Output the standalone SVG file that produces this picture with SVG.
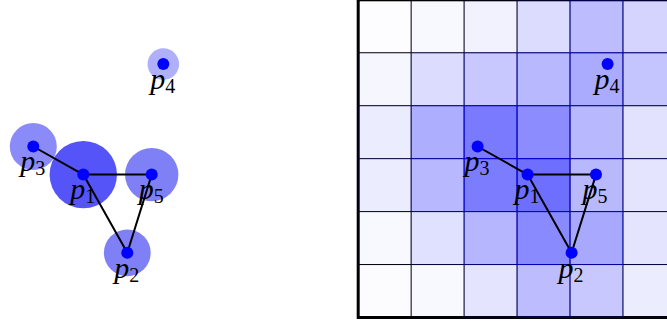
<svg xmlns="http://www.w3.org/2000/svg" width="667" height="324" viewBox="0 0 667 324">
<style>
.halo{stroke:none}
.edge{stroke:#000;stroke-width:2;fill:none;stroke-linecap:round}
.dot{fill:#0000ff}
.lbl{font-family:"Liberation Serif",serif;font-style:italic;font-size:30px;fill:#000}
.sub{font-family:"Liberation Serif",serif;font-style:normal;font-size:20px}
.gl{stroke:#000;stroke-width:1;fill:none}
.cell{fill:#0000ff;stroke:#0000ff;stroke-width:0.9}
</style>
<rect width="667" height="324" fill="#fff"/>
<!-- left: weighted points -->
<g id="halos">
<circle class="halo" cx="33.3" cy="146.5" r="23.5" fill="#8a8af8"/>
<circle class="halo" cx="151.7" cy="174.6" r="26.7" fill="#8080f6"/>
<circle class="halo" cx="127.3" cy="252.8" r="23.4" fill="#8080f6"/>
<circle class="halo" cx="163.3" cy="64.1" r="15.8" fill="#b0b0fa"/>
<circle class="halo" cx="83.3" cy="174.6" r="33.7" fill="#5454f8"/>
</g>
<g id="connectors-left">
<line class="edge" x1="33.3" y1="146.5" x2="83.3" y2="174.6"/>
<line class="edge" x1="83.3" y1="174.6" x2="151.7" y2="174.6"/>
<line class="edge" x1="83.3" y1="174.6" x2="127.3" y2="252.8"/>
<line class="edge" x1="151.7" y1="174.6" x2="127.3" y2="252.8"/>
</g>
<g id="L-p1"><circle class="dot" cx="83.3" cy="174.6" r="6"/><text class="lbl" x="70.3" y="199.4">p<tspan class="sub" x="85.3" y="203.4">1</tspan></text></g>
<g id="L-p2"><circle class="dot" cx="127.3" cy="252.8" r="6"/><text class="lbl" x="114.3" y="277.6">p<tspan class="sub" x="129.3" y="281.6">2</tspan></text></g>
<g id="L-p3"><circle class="dot" cx="33.3" cy="146.5" r="6"/><text class="lbl" x="20.3" y="171.3">p<tspan class="sub" x="35.3" y="175.3">3</tspan></text></g>
<g id="L-p4"><circle class="dot" cx="163.3" cy="64.1" r="6"/><text class="lbl" x="150.3" y="88.9">p<tspan class="sub" x="165.3" y="92.9">4</tspan></text></g>
<g id="L-p5"><circle class="dot" cx="151.7" cy="174.6" r="6"/><text class="lbl" x="138.7" y="199.4">p<tspan class="sub" x="153.7" y="203.4">5</tspan></text></g>
<!-- right: density grid -->
<g id="grid">
<rect x="358.2" y="-0.2" width="317.7" height="317.7" fill="none" stroke="#000" stroke-width="3"/>
<path class="gl" d="M411.15 0V317.5M464.1 0V317.5M517.05 0V317.5M570 0V317.5M622.95 0V317.5M358.2 52.75H676M358.2 105.7H676M358.2 158.65H676M358.2 211.6H676M358.2 264.55H676"/>
<g id="cells">
<rect class="cell" x="358.2" y="-0.2" width="52.95" height="52.95" fill-opacity="0.008" stroke-opacity="0.008"/>
<rect class="cell" x="411.15" y="-0.2" width="52.95" height="52.95" fill-opacity="0.027" stroke-opacity="0.027"/>
<rect class="cell" x="464.1" y="-0.2" width="52.95" height="52.95" fill-opacity="0.051" stroke-opacity="0.051"/>
<rect class="cell" x="517.05" y="-0.2" width="52.95" height="52.95" fill-opacity="0.137" stroke-opacity="0.137"/>
<rect class="cell" x="570" y="-0.2" width="52.95" height="52.95" fill-opacity="0.263" stroke-opacity="0.263"/>
<rect class="cell" x="622.95" y="-0.2" width="52.95" height="52.95" fill-opacity="0.169" stroke-opacity="0.169"/>
<rect class="cell" x="358.2" y="52.75" width="52.95" height="52.95" fill-opacity="0.035" stroke-opacity="0.035"/>
<rect class="cell" x="411.15" y="52.75" width="52.95" height="52.95" fill-opacity="0.137" stroke-opacity="0.137"/>
<rect class="cell" x="464.1" y="52.75" width="52.95" height="52.95" fill-opacity="0.216" stroke-opacity="0.216"/>
<rect class="cell" x="517.05" y="52.75" width="52.95" height="52.95" fill-opacity="0.278" stroke-opacity="0.278"/>
<rect class="cell" x="570" y="52.75" width="52.95" height="52.95" fill-opacity="0.333" stroke-opacity="0.333"/>
<rect class="cell" x="622.95" y="52.75" width="52.95" height="52.95" fill-opacity="0.231" stroke-opacity="0.231"/>
<rect class="cell" x="358.2" y="105.7" width="52.95" height="52.95" fill-opacity="0.075" stroke-opacity="0.075"/>
<rect class="cell" x="411.15" y="105.7" width="52.95" height="52.95" fill-opacity="0.318" stroke-opacity="0.318"/>
<rect class="cell" x="464.1" y="105.7" width="52.95" height="52.95" fill-opacity="0.522" stroke-opacity="0.522"/>
<rect class="cell" x="517.05" y="105.7" width="52.95" height="52.95" fill-opacity="0.451" stroke-opacity="0.451"/>
<rect class="cell" x="570" y="105.7" width="52.95" height="52.95" fill-opacity="0.278" stroke-opacity="0.278"/>
<rect class="cell" x="622.95" y="105.7" width="52.95" height="52.95" fill-opacity="0.114" stroke-opacity="0.114"/>
<rect class="cell" x="358.2" y="158.65" width="52.95" height="52.95" fill-opacity="0.075" stroke-opacity="0.075"/>
<rect class="cell" x="411.15" y="158.65" width="52.95" height="52.95" fill-opacity="0.278" stroke-opacity="0.278"/>
<rect class="cell" x="464.1" y="158.65" width="52.95" height="52.95" fill-opacity="0.514" stroke-opacity="0.514"/>
<rect class="cell" x="517.05" y="158.65" width="52.95" height="52.95" fill-opacity="0.569" stroke-opacity="0.569"/>
<rect class="cell" x="570" y="158.65" width="52.95" height="52.95" fill-opacity="0.278" stroke-opacity="0.278"/>
<rect class="cell" x="622.95" y="158.65" width="52.95" height="52.95" fill-opacity="0.106" stroke-opacity="0.106"/>
<rect class="cell" x="358.2" y="211.6" width="52.95" height="52.95" fill-opacity="0.027" stroke-opacity="0.027"/>
<rect class="cell" x="411.15" y="211.6" width="52.95" height="52.95" fill-opacity="0.122" stroke-opacity="0.122"/>
<rect class="cell" x="464.1" y="211.6" width="52.95" height="52.95" fill-opacity="0.286" stroke-opacity="0.286"/>
<rect class="cell" x="517.05" y="211.6" width="52.95" height="52.95" fill-opacity="0.459" stroke-opacity="0.459"/>
<rect class="cell" x="570" y="211.6" width="52.95" height="52.95" fill-opacity="0.341" stroke-opacity="0.341"/>
<rect class="cell" x="622.95" y="211.6" width="52.95" height="52.95" fill-opacity="0.106" stroke-opacity="0.106"/>
<rect class="cell" x="358.2" y="264.55" width="52.95" height="52.95" fill-opacity="0.012" stroke-opacity="0.012"/>
<rect class="cell" x="411.15" y="264.55" width="52.95" height="52.95" fill-opacity="0.027" stroke-opacity="0.027"/>
<rect class="cell" x="464.1" y="264.55" width="52.95" height="52.95" fill-opacity="0.106" stroke-opacity="0.106"/>
<rect class="cell" x="517.05" y="264.55" width="52.95" height="52.95" fill-opacity="0.263" stroke-opacity="0.263"/>
<rect class="cell" x="570" y="264.55" width="52.95" height="52.95" fill-opacity="0.216" stroke-opacity="0.216"/>
<rect class="cell" x="622.95" y="264.55" width="52.95" height="52.95" fill-opacity="0.075" stroke-opacity="0.075"/>
</g>
</g>
<g id="connectors-right">
<line class="edge" x1="477.6" y1="146.5" x2="527.6" y2="174.6"/>
<line class="edge" x1="527.6" y1="174.6" x2="596" y2="174.6"/>
<line class="edge" x1="527.6" y1="174.6" x2="571.6" y2="252.8"/>
<line class="edge" x1="596" y1="174.6" x2="571.6" y2="252.8"/>
</g>
<g id="R-p1"><circle class="dot" cx="527.6" cy="174.6" r="6"/><text class="lbl" x="514.6" y="199.4">p<tspan class="sub" x="529.6" y="203.4">1</tspan></text></g>
<g id="R-p2"><circle class="dot" cx="571.6" cy="252.8" r="6"/><text class="lbl" x="558.6" y="277.6">p<tspan class="sub" x="573.6" y="281.6">2</tspan></text></g>
<g id="R-p3"><circle class="dot" cx="477.6" cy="146.5" r="6"/><text class="lbl" x="464.6" y="171.3">p<tspan class="sub" x="479.6" y="175.3">3</tspan></text></g>
<g id="R-p4"><circle class="dot" cx="607.6" cy="64.1" r="6"/><text class="lbl" x="594.6" y="88.9">p<tspan class="sub" x="609.6" y="92.9">4</tspan></text></g>
<g id="R-p5"><circle class="dot" cx="596" cy="174.6" r="6"/><text class="lbl" x="582.6" y="199.4">p<tspan class="sub" x="597.6" y="203.4">5</tspan></text></g>
</svg>
